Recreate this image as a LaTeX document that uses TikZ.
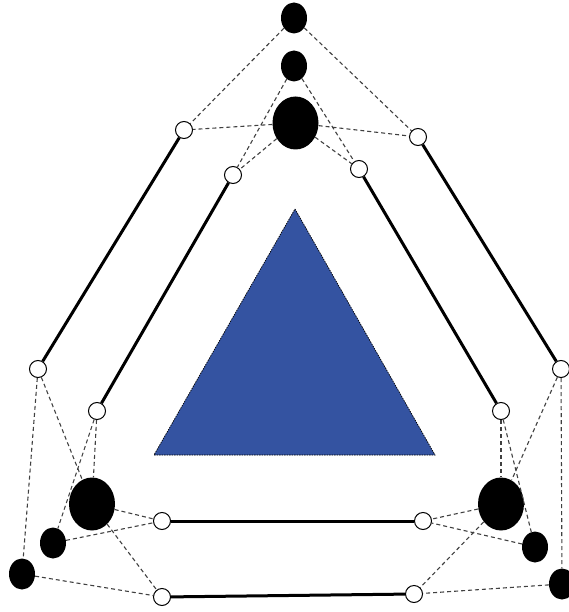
\documentclass[tikz,border=0pt]{standalone}
\usepackage{xcolor}
\usepackage{tikz}
\usetikzlibrary{shapes.geometric}
\definecolor{coreblue}{RGB}{52,83,161}

\begin{document}
\begin{tikzpicture}[
    x=1pt, y=-1pt,
    bigdot/.style={ellipse, fill=black, inner sep=0pt, minimum width=46pt, minimum height=53pt},
    smalldot/.style={ellipse, fill=black, inner sep=0pt, minimum width=26pt, minimum height=31pt},
    port/.style={circle, draw=black, line width=1pt, fill=white, inner sep=0pt, minimum size=17pt},
    bar/.style={line width=3pt, draw=black},
    hint/.style={dashed, dash pattern=on 4pt off 3pt, line width=1.1pt, draw=black!75}
]
\useasboundingbox (0,0) rectangle (569,612);
% core
\draw[fill=coreblue, draw=black, line width=0.7pt, dash pattern=on 1.5pt off 1pt] (295,209) -- (435,455) -- (154,455) -- cycle;
% top corner
\node[smalldot] (t1) at (294,18) {};
\node[smalldot] (t2) at (294,66) {};
\node[bigdot] (t3) at (295.5,123) {};
% left corner
\node[bigdot] (l1) at (92,504) {};
\node[smalldot] (l2) at (53,543) {};
\node[smalldot] (l3) at (22,574) {};
% right corner
\node[bigdot] (r1) at (501,504) {};
\node[smalldot] (r2) at (535,547) {};
\node[smalldot] (r3) at (562,584) {};
% ports
\node[port] (oa) at (184,130) {};
\node[port] (ob) at (418,137) {};
\node[port] (ia) at (233,175) {};
\node[port] (ib) at (359,169) {};
\node[port] (oe) at (38,369) {};
\node[port] (ie) at (97,411) {};
\node[port] (oi) at (561,369) {};
\node[port] (ii) at (501,411) {};
\node[port] (ig) at (162,521) {};
\node[port] (ik) at (423,521) {};
\node[port] (oh) at (162,597) {};
\node[port] (om) at (414,594) {};
% bars
\draw[bar] (oa) -- (oe);
\draw[bar] (ia) -- (ie);
\draw[bar] (ob) -- (oi);
\draw[bar] (ib) -- (ii);
\draw[bar] (ig) -- (ik);
\draw[bar] (oh) -- (om);
% top links
\draw[hint] (t1) -- (oa);
\draw[hint] (t1) -- (ob);
\draw[hint] (t3) -- (oa);
\draw[hint] (t3) -- (ob);
\draw[hint] (t2) -- (ia);
\draw[hint] (t2) -- (ib);
\draw[hint] (t3) -- (ia);
\draw[hint] (t3) -- (ib);
% left links
\draw[hint] (oe) -- (l3);
\draw[hint] (oe) -- (l1);
\draw[hint] (ie) -- (l1);
\draw[hint] (ie) -- (l2);
\draw[hint] (l1) -- (ig);
\draw[hint] (l2) -- (ig);
\draw[hint] (l1) -- (oh);
\draw[hint] (l3) -- (oh);
% right links
\draw[hint] (oi) -- (r3);
\draw[hint] (oi) -- (r1);
\draw[hint] (ii) -- (r1);
\draw[hint] (ii) -- (r2);
\draw[hint] (r1) -- (ik);
\draw[hint] (r2) -- (ik);
\draw[hint] (r1) -- (om);
\draw[hint] (r3) -- (om);
\end{tikzpicture}
\end{document}
